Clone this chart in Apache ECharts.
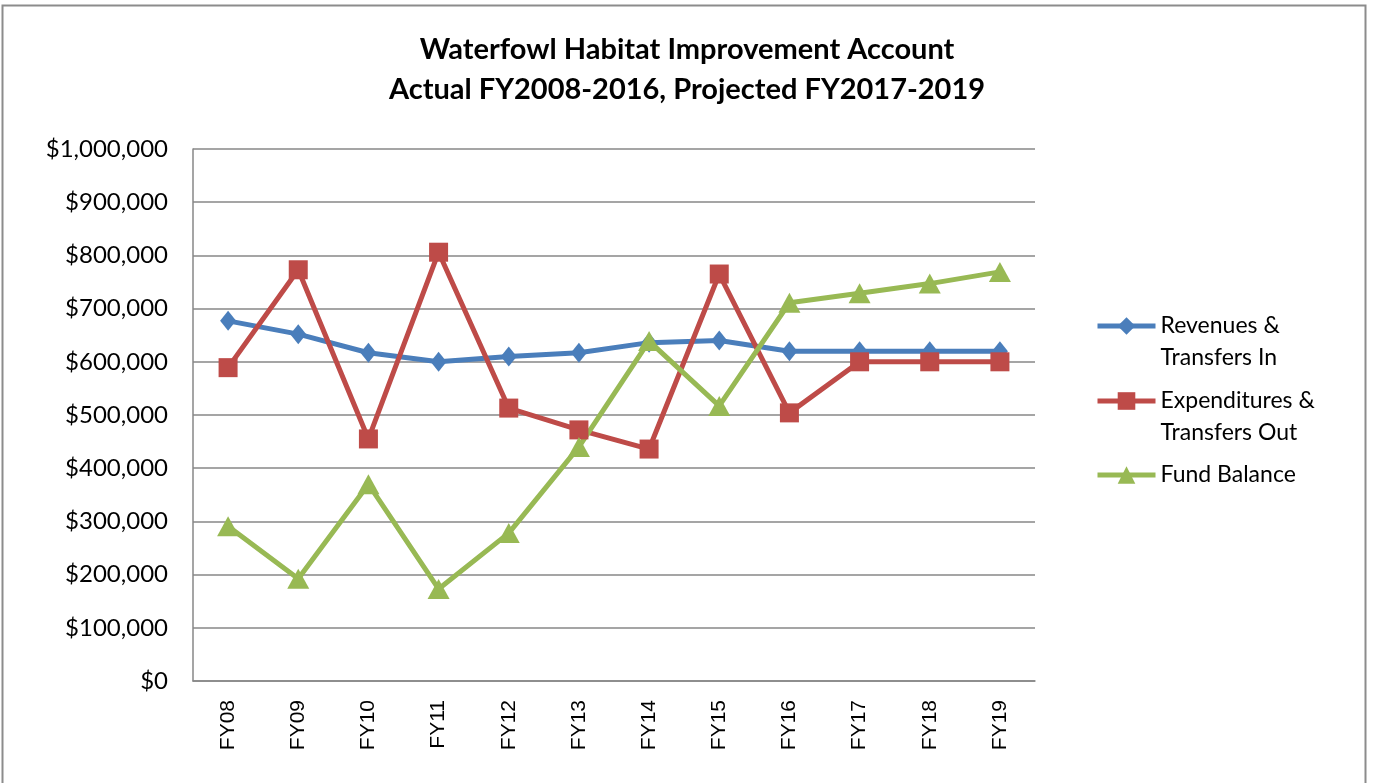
<!DOCTYPE html>
<html>
<head>
<meta charset="utf-8">
<script src="https://cdn.jsdelivr.net/npm/echarts@6/dist/echarts.min.js"></script>
<style>
  html, body { margin: 0; padding: 0; background: #fff; }
  #chart { width: 1374px; height: 783px; }
</style>
</head>
<body>
<div id="chart"></div>
<script>
const categories = ["FY08", "FY09", "FY10", "FY11", "FY12", "FY13", "FY14", "FY15", "FY16", "FY17", "FY18", "FY19"];
const revenues = [677000, 652000, 617000, 600000, 610000, 617000, 636000, 640000, 620000, 620000, 620000, 620000];
const expenditures = [589000, 773000, 455000, 806000, 513000, 472000, 436000, 765000, 504000, 600000, 600000, 600000];
const fundBalance = [291000, 192000, 370000, 173000, 278000, 440000, 639000, 517000, 711000, 729000, 747000, 769000];

const names = ["Revenues &\nTransfers In", "Expenditures &\nTransfers Out", "Fund Balance"];
const colors = ["#4A7EBB", "#BE4B48", "#98B954"];

const chart = echarts.init(document.getElementById("chart"));

// blank first line keeps the marker level with the first text line
function makeLegend(name, top) {
  return {
    data: [name],
    orient: "vertical",
    left: 1095,
    top: top,
    padding: 0,
    itemWidth: 58,
    itemHeight: 22,
    itemGap: 0,
    lineStyle: { width: 5 },
    formatter: n => (n.indexOf("\n") >= 0 ? " \n" + n : n),
    textStyle: { fontFamily: "Lato", fontSize: 23, color: "#000", lineHeight: 32 },
    selectedMode: false
  };
}

chart.setOption({
  backgroundColor: "#fff",
  animation: false,
  color: colors,
  title: {
    text: "Waterfowl Habitat Improvement Account\nActual FY2008-2016, Projected FY2017-2019",
    left: "center",
    top: 25,
    textStyle: { fontFamily: "Lato", fontSize: 29, fontWeight: "bold", color: "#000", lineHeight: 40 }
  },
  legend: [
    makeLegend(names[0], 278),
    makeLegend(names[1], 353),
    makeLegend(names[2], 459)
  ],
  grid: { left: 193, right: 339, top: 149, bottom: 102 },
  xAxis: {
    type: "category",
    data: categories,
    boundaryGap: true,
    axisLine: { lineStyle: { color: "#878787", width: 1.5 } },
    axisTick: { show: false },
    axisLabel: { rotate: 90, fontFamily: "Liberation Sans", fontSize: 21, color: "#000", margin: 19 }
  },
  yAxis: {
    type: "value",
    min: 0,
    max: 1000000,
    interval: 100000,
    axisLine: { show: true, lineStyle: { color: "#878787", width: 1.5 } },
    axisTick: { show: false },
    splitLine: { lineStyle: { color: "#878787", width: 1.5 } },
    axisLabel: {
      fontFamily: "Lato", fontSize: 24, color: "#000", margin: 25,
      formatter: v => "$" + v.toLocaleString("en-US")
    }
  },
  graphic: [{
    type: "rect",
    shape: { x: 2.5, y: 5.5, width: 1363, height: 800 },
    style: { fill: "none", stroke: "#8c8c8c", lineWidth: 2 },
    silent: true
  }],
  series: [
    {
      name: names[0], type: "line", data: revenues,
      symbol: "diamond", symbolSize: [16, 20],
      lineStyle: { width: 5, color: colors[0] },
      itemStyle: { color: colors[0] }
    },
    {
      name: names[1], type: "line", data: expenditures,
      symbol: "rect", symbolSize: 19,
      lineStyle: { width: 5, color: colors[1] },
      itemStyle: { color: colors[1] }
    },
    {
      name: names[2], type: "line", data: fundBalance,
      symbol: "triangle", symbolSize: [22, 20],
      lineStyle: { width: 5, color: colors[2] },
      itemStyle: { color: colors[2] }
    }
  ]
});

window.addEventListener("resize", () => chart.resize());
</script>
</body>
</html>
